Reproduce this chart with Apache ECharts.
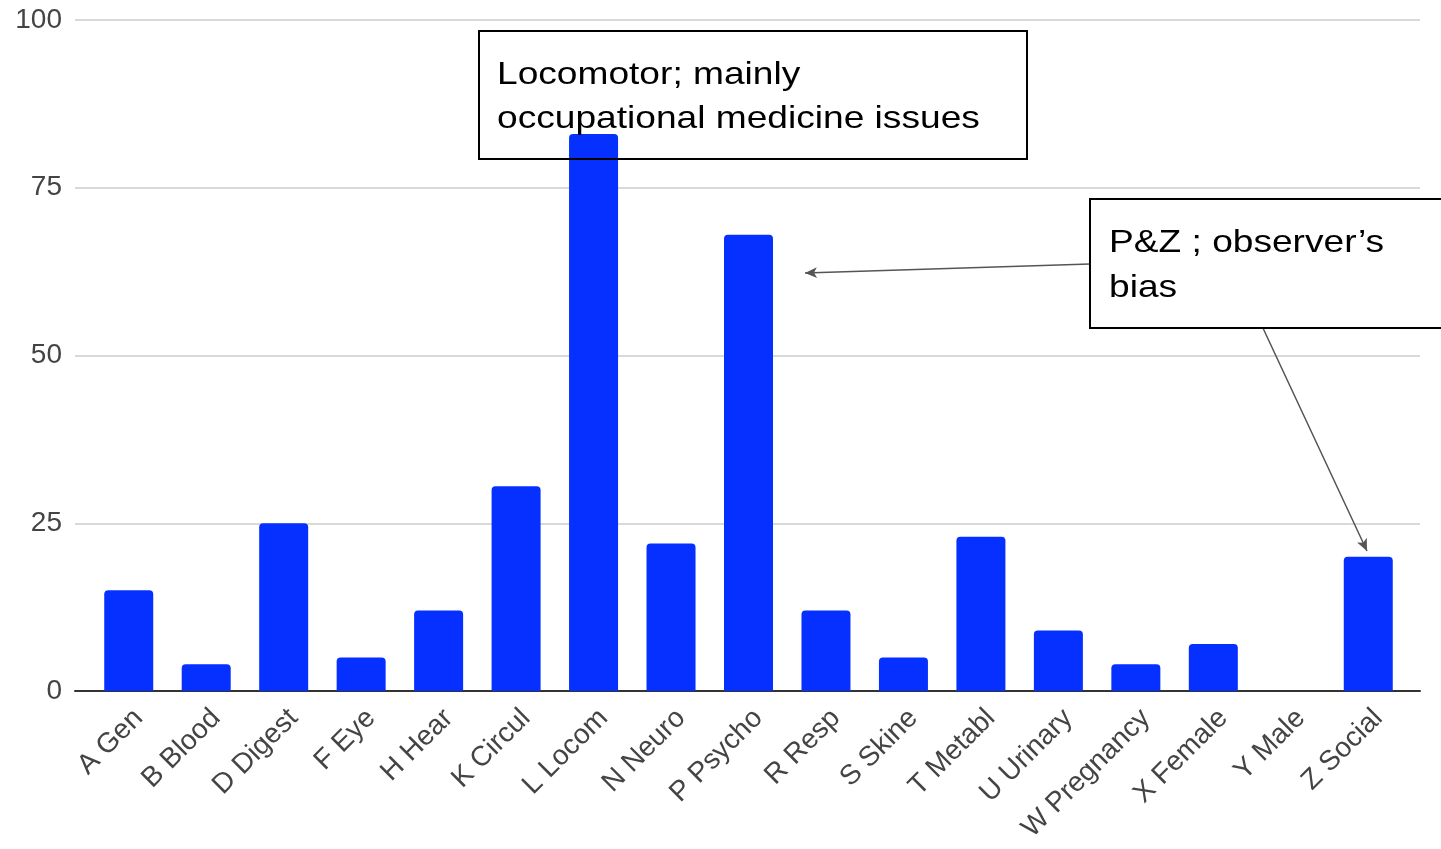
<!DOCTYPE html>
<html><head><meta charset="utf-8">
<script src="https://cdn.jsdelivr.net/npm/echarts@6/dist/echarts.min.js"></script>
<style>html,body{margin:0;padding:0;background:#fff}#c{width:1441px;height:849px}</style>
</head><body><div id="c"></div>
<script>
const categories = ['A Gen','B Blood','D Digest','F Eye','H Hear','K Circul','L Locom','N Neuro','P Psycho','R Resp','S Skine','T Metabl','U Urinary','W Pregnancy','X Female','Y Male','Z Social'];
const values = [15, 4, 25, 5, 12, 30.5, 83, 22, 68, 12, 5, 23, 9, 4, 7, 0, 20];
const yTicks = [0, 25, 50, 75, 100];
const note1 = ['Locomotor; mainly', 'occupational medicine issues'];
const note2 = ['P&Z ; observer\u2019s', 'bias'];

const chart = echarts.init(document.getElementById('c'), null, {renderer:'canvas'});
const FONT = '"Liberation Sans", Arial, sans-serif';
const yMin = yTicks[0], yMax = yTicks[yTicks.length-1];
chart.setOption({
  animation:false,
  grid:[
    {left:90, right:34, top:20, bottom:158, containLabel:false},
    {left:75, right:21, top:20, bottom:158, containLabel:false}
  ],
  xAxis:[
    {type:'category', gridIndex:0, data:categories,
      axisLine:{show:false}, axisTick:{show:false},
      axisLabel:{rotate:45, interval:0, fontFamily:FONT, fontSize:28, color:'#444', margin:13, align:'right', verticalAlign:'top'}},
    {type:'value', gridIndex:1, min:0, max:1, axisLabel:{show:false}, axisTick:{show:false}, splitLine:{show:false},
      axisLine:{show:true, onZero:false, lineStyle:{color:'#333', width:2}}}
  ],
  yAxis:[
    {type:'value', gridIndex:0, min:yMin, max:yMax, interval:25, show:false, splitLine:{show:false}},
    {type:'value', gridIndex:1, min:yMin, max:yMax, interval:25,
      axisLine:{show:false}, axisTick:{show:false},
      splitLine:{lineStyle:{color:'#d9d9d9', width:2}},
      axisLabel:{fontFamily:FONT, fontSize:28, color:'#444', margin:13}}
  ],
  series:[
    {type:'bar', xAxisIndex:0, yAxisIndex:0, data:values, barWidth:49, z:3,
     itemStyle:{color:'#0530ff', borderRadius:[4,4,0,0]}},
    {type:'line', xAxisIndex:1, yAxisIndex:1, data:[], silent:true,
     markLine:{silent:true, animation:false, symbolSize:[8,12], label:{show:false},
       lineStyle:{color:'#555', width:1.5, type:'solid'},
       data:[
         [{x:1090, y:264, symbol:'none'}, {x:805, y:273, symbol:'arrow'}],
         [{x:1262, y:326, symbol:'none'}, {x:1367, y:551, symbol:'arrow'}]
       ]}}
  ],
  graphic:[
    {type:'rect', z:100, shape:{x:479, y:31, width:548, height:128}, style:{fill:'rgba(0,0,0,0)', stroke:'#000', lineWidth:2}},
    {type:'text', z:101, x:497, y:53, scaleX:1.16, style:{text:note1.join('\n'), font:'32px '+FONT, fill:'#000', lineHeight:44, textVerticalAlign:'top'}},
    {type:'rect', z:100, shape:{x:1090, y:199, width:360, height:129}, style:{fill:'#fff', stroke:'#000', lineWidth:2}},
    {type:'text', z:101, x:1109, y:221, scaleX:1.16, style:{text:note2.join('\n'), font:'32px '+FONT, fill:'#000', lineHeight:45, textVerticalAlign:'top'}}
  ]
});
</script></body></html>
